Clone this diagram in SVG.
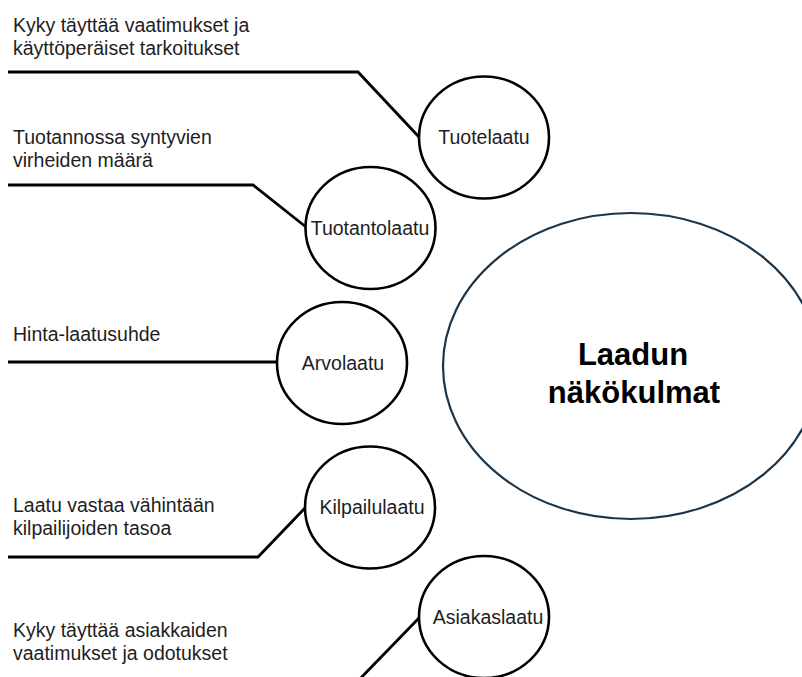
<svg xmlns="http://www.w3.org/2000/svg" width="802" height="677" viewBox="0 0 802 677">
  <style>
    .bg { fill: #ffffff; }
    .node { fill: #ffffff; stroke: #000000; stroke-width: 2.6; }
    .hub { fill: #ffffff; stroke: #1c3549; stroke-width: 2.2; }
    .conn { fill: none; stroke: #000000; stroke-width: 2.8; stroke-linejoin: miter; }
    .lbl { font-family: "Liberation Sans", Arial, sans-serif; font-size: 19.5px; fill: #1e1e1e; }
    .nlbl { font-family: "Liberation Sans", Arial, sans-serif; font-size: 19.5px; fill: #1e1e1e; text-anchor: middle; }
    .hlbl { font-family: "Liberation Sans", Arial, sans-serif; font-size: 31px; font-weight: bold; fill: #000000; text-anchor: middle; }
  </style>
  <rect class="bg" x="0" y="0" width="802" height="677"/>

  <!-- leader lines from the descriptions to each quality circle -->
  <g id="connectors">
    <path class="conn" d="M8,72 H358 L419,137"/>
    <path class="conn" d="M8,185 H253 L306,227"/>
    <path class="conn" d="M8,362 H277"/>
    <path class="conn" d="M8,557 H258 L305,508"/>
    <path class="conn" d="M355,684 L419,618"/>
  </g>

  <!-- descriptions -->
  <g id="desc-tuotelaatu">
    <text class="lbl" x="13" y="32">Kyky täyttää vaatimukset ja</text>
    <text class="lbl" x="13" y="55">käyttöperäiset tarkoitukset</text>
  </g>
  <g id="desc-tuotantolaatu">
    <text class="lbl" x="13" y="144">Tuotannossa syntyvien</text>
    <text class="lbl" x="13" y="167">virheiden määrä</text>
  </g>
  <g id="desc-arvolaatu">
    <text class="lbl" x="13" y="341">Hinta-laatusuhde</text>
  </g>
  <g id="desc-kilpailulaatu">
    <text class="lbl" x="13" y="512">Laatu vastaa vähintään</text>
    <text class="lbl" x="13" y="535">kilpailijoiden tasoa</text>
  </g>
  <g id="desc-asiakaslaatu">
    <text class="lbl" x="13" y="637">Kyky täyttää asiakkaiden</text>
    <text class="lbl" x="13" y="660">vaatimukset ja odotukset</text>
  </g>

  <!-- central concept -->
  <g id="hub">
    <ellipse class="hub" cx="631" cy="366" rx="188" ry="153"/>
    <text class="hlbl" x="633" y="365">Laadun</text>
    <text class="hlbl" x="634" y="403">näkökulmat</text>
  </g>

  <!-- quality circles -->
  <g id="tuotelaatu">
    <ellipse class="node" cx="484" cy="137.5" rx="65" ry="61"/>
    <text class="nlbl" x="484" y="144">Tuotelaatu</text>
  </g>
  <g id="tuotantolaatu">
    <ellipse class="node" cx="370.5" cy="228" rx="65" ry="61"/>
    <text class="nlbl" x="370" y="235">Tuotantolaatu</text>
  </g>
  <g id="arvolaatu">
    <ellipse class="node" cx="342" cy="363" rx="65" ry="61"/>
    <text class="nlbl" x="343" y="369.5">Arvolaatu</text>
  </g>
  <g id="kilpailulaatu">
    <ellipse class="node" cx="370" cy="507.5" rx="65" ry="61"/>
    <text class="nlbl" x="372" y="514">Kilpailulaatu</text>
  </g>
  <g id="asiakaslaatu">
    <ellipse class="node" cx="484" cy="617" rx="65" ry="61"/>
    <text class="nlbl" x="488" y="623.5">Asiakaslaatu</text>
  </g>
</svg>
